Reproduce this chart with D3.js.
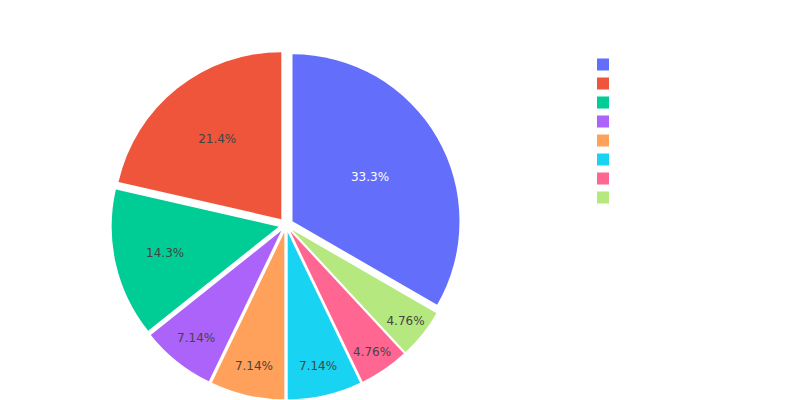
<!doctype html>
<html lang="en">
<head>
  <meta charset="utf-8">
  <title>Pie</title>
  <style>
  body{
    margin: 0;
    background: #fff;
  }
  .slice-label{
    font-family: "DejaVu Sans", verdana, arial, sans-serif;
    font-size: 12px;
  }
  </style>
  <script src="https://d3js.org/d3.v7.min.js"></script>
</head>
<body>
  <div id="area1"></div>

  <script>
    // values (percentages 33.3 / 21.4 / 14.3 / 7.14 / 4.76)
    var categories = ["A", "B", "C", "D", "E", "F", "G", "H"];
    var counts = [14, 9, 6, 3, 3, 3, 2, 2];
    var colours = ["#636efa", "#EF553B", "#00cc96", "#ab63fa", "#FFA15A", "#19d3f3", "#FF6692", "#B6E880"];

    var width = 800,
        height = 400;

    var cx = 286, cy = 225,
        radius = 167,
        pull = 7.5;   // every slice is pulled out a little

    var svg = d3.select('#area1').append('svg')
      .attr('width', width)
      .attr('height', height);

    var total = d3.sum(counts);

    // first slice starts at 12 o'clock going clockwise, the rest follow counterclockwise
    var firstAngle = 2 * Math.PI * counts[0] / total;
    var pie = d3.pie()
      .sort(null)
      .value(function(d) { return d; })
      .startAngle(firstAngle)
      .endAngle(firstAngle - 2 * Math.PI);

    var arcs = pie(counts);

    var arc = d3.arc()
      .innerRadius(0)
      .outerRadius(radius);

    function midAngle(d) { return (d.startAngle + d.endAngle) / 2; }

    // text colour like plotly: dark grey on light slices, white on dark ones
    function textColour(c) {
      var rgb = d3.rgb(c);
      var brightness = (rgb.r * 299 + rgb.g * 587 + rgb.b * 114) / 1000;
      return brightness >= 128 ? "#444" : "#fff";
    }

    // label radius: 1 - inscribed circle fraction of the wedge
    function labelRadius(d) {
      var half = Math.abs(d.endAngle - d.startAngle) / 2;
      return radius * (1 - Math.min(1 / (1 + 1 / Math.sin(half)), 0.5));
    }

    var slices = svg.append('g')
      .attr('transform', 'translate(' + cx + ',' + cy + ')')
      .selectAll('.slice')
      .data(arcs)
      .enter().append('g')
      .attr('class', 'slice')
      .attr('transform', function(d) {
        var a = midAngle(d);
        return 'translate(' + (pull * Math.sin(a)) + ',' + (-pull * Math.cos(a)) + ')';
      });

    slices.append('path')
      .attr('d', arc)
      .attr('fill', function(d, i) { return colours[i]; });

    slices.append('text')
      .attr('class', 'slice-label')
      .attr('x', function(d) { return labelRadius(d) * Math.sin(midAngle(d)); })
      .attr('y', function(d) { return -labelRadius(d) * Math.cos(midAngle(d)); })
      .attr('dy', '0.38em')
      .style('text-anchor', 'middle')
      .attr('fill', function(d, i) { return textColour(colours[i]); })
      .text(function(d) { return d3.format('.3~r')(d.value / total * 100) + '%'; });

    // legend swatches (no label text shows in the picture)
    var legend = svg.append('g')
      .attr('transform', 'translate(597,58.5)');

    legend.selectAll('rect')
      .data(categories)
      .enter().append('rect')
      .attr('x', 0)
      .attr('y', function(d, i) { return i * 19; })
      .attr('width', 12)
      .attr('height', 12)
      .attr('fill', function(d, i) { return colours[i]; });
  </script>
</body>
</html>
